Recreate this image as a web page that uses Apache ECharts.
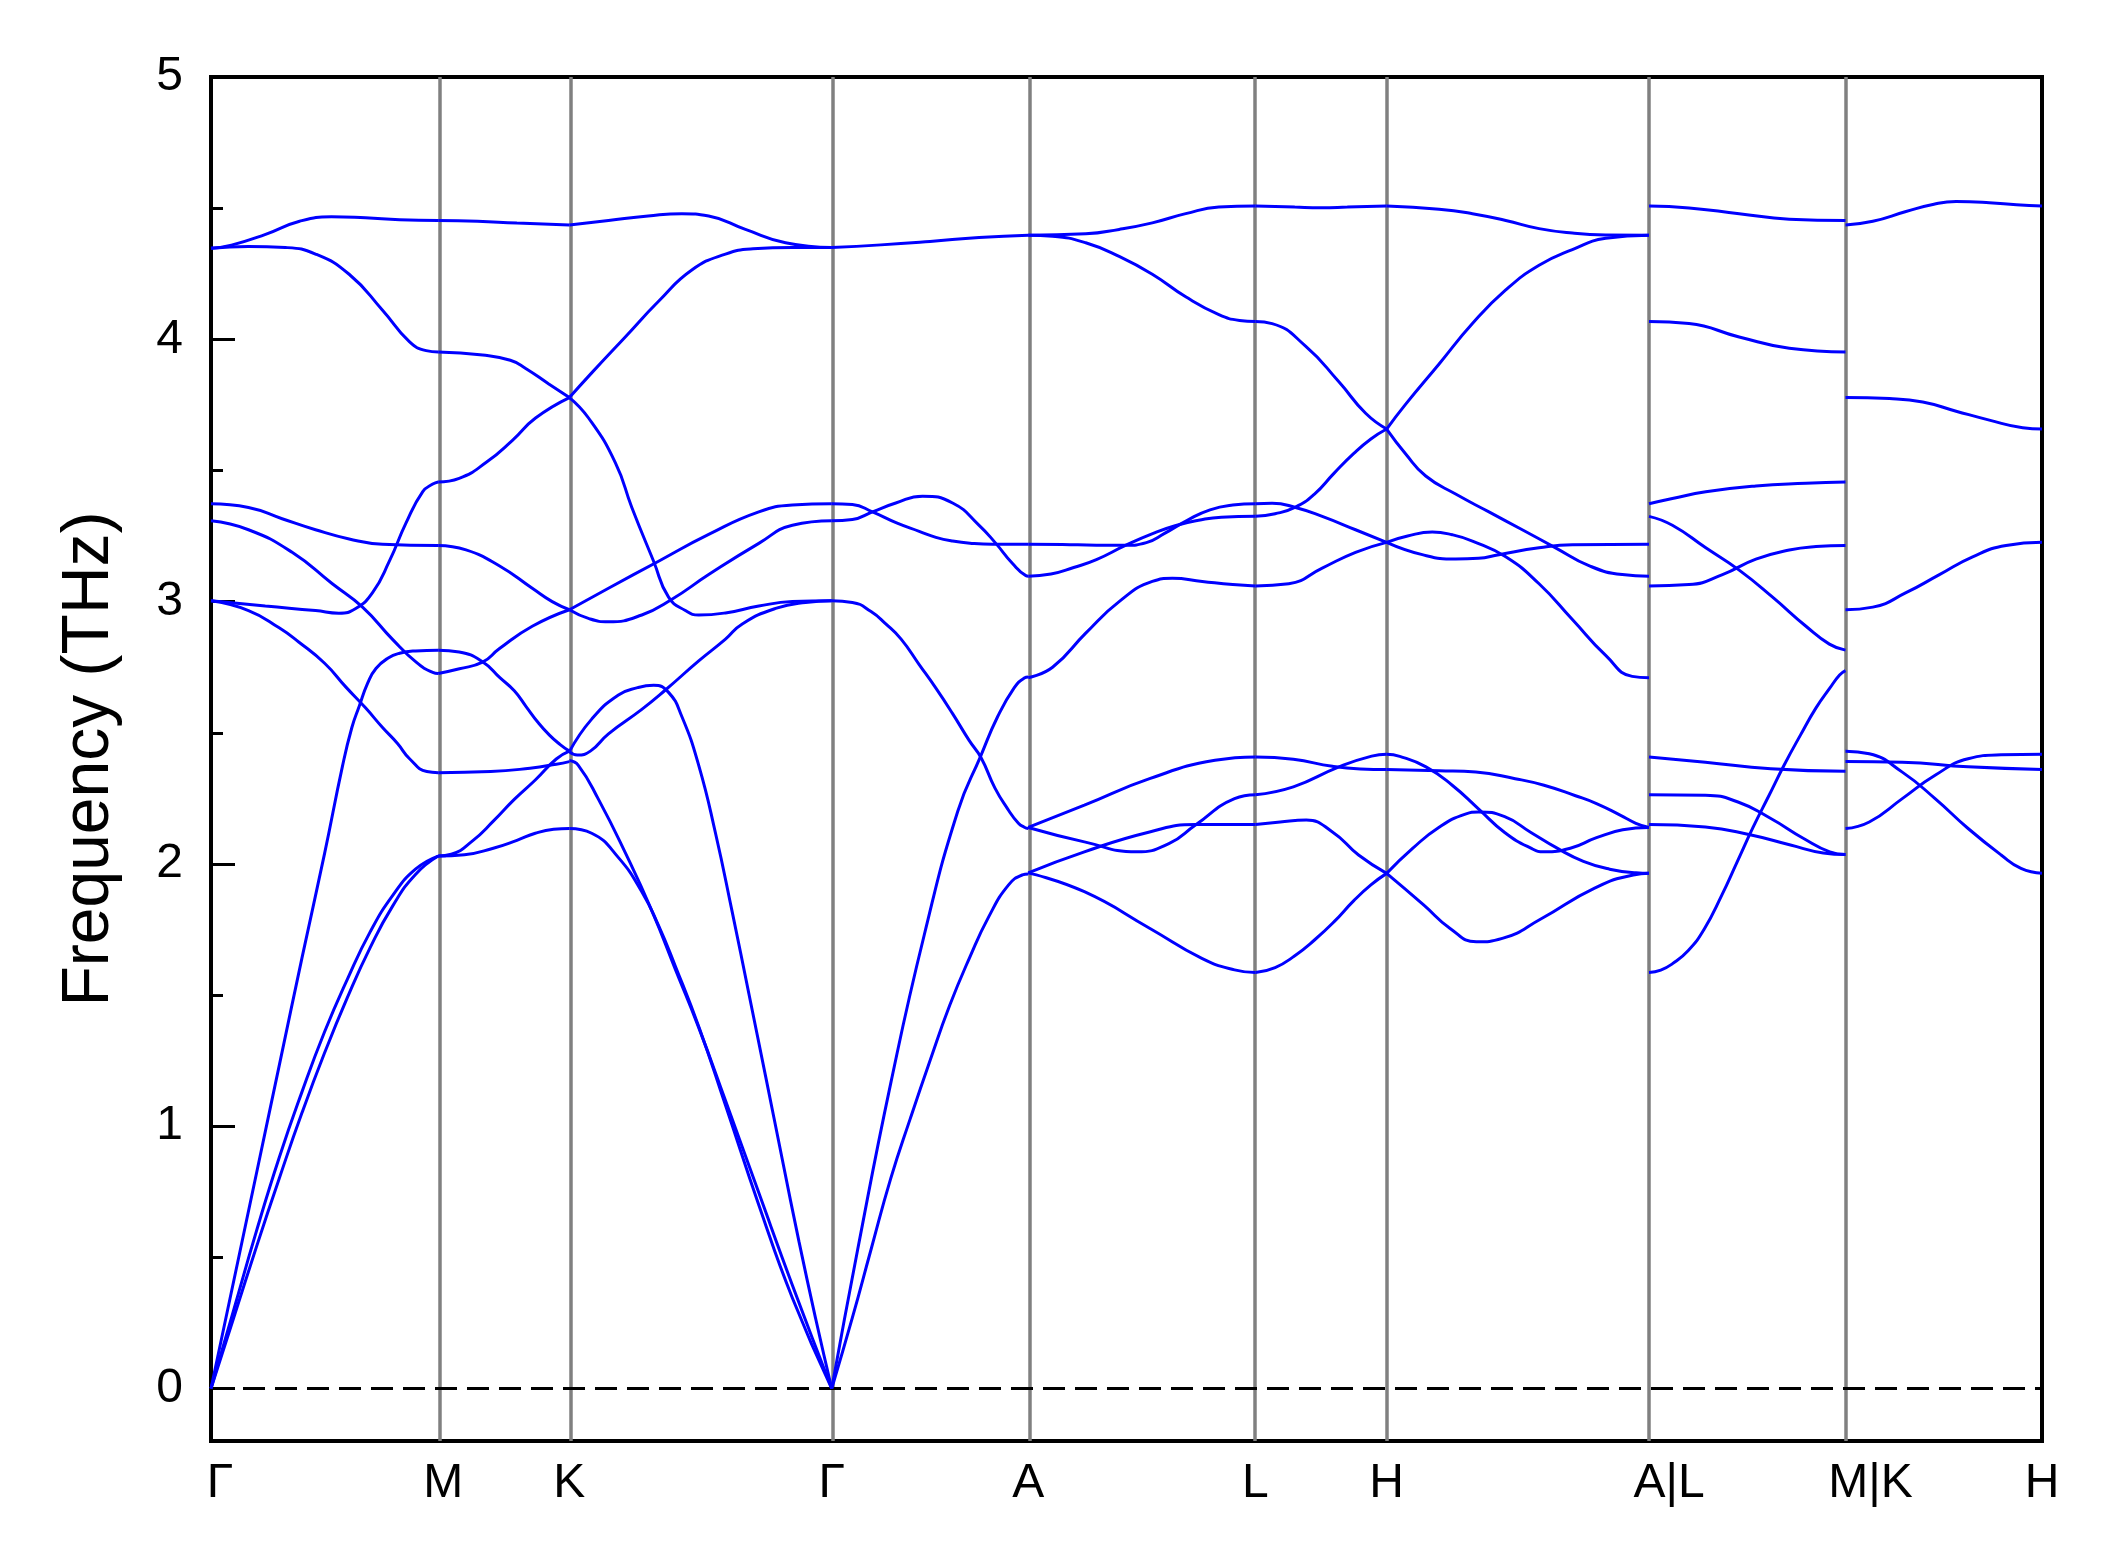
<!DOCTYPE html>
<html><head><meta charset="utf-8">
<script src="https://cdn.jsdelivr.net/npm/echarts@6/dist/echarts.min.js"></script>
<style>html,body{margin:0;padding:0;background:#fff}#c{width:2120px;height:1567px}</style>
</head><body><div id="c"></div>
<script>
// High-symmetry path labels and relative segment lengths
const tickLabels = ['Γ','M','K','Γ','A','L','H','A|L','M|K','H'];
const segmentLengths = [0.866, 0.5, 1.0, 0.749, 0.866, 0.5, 1.0, 0.749, 0.749];
const yMajorTicks = [0, 1, 2, 3, 4, 5];
const yMinorTicks = [0.5, 1.5, 2.5, 3.5, 4.5];

// Each band: list of [fraction along segment, frequency THz]
const bandsGammaM = [
  [[0,4.347],[0.09,4.359],[0.24,4.40],[0.39,4.45],[0.53,4.467],[0.68,4.463],[0.83,4.456],[1,4.453]],
  [[0,4.347],[0.165,4.354],[0.327,4.35],[0.46,4.325],[0.608,4.248],[0.755,4.111],[0.873,3.991],[0.947,3.957],[1,3.952]],
  [[0,3.373],[0.165,3.359],[0.313,3.316],[0.46,3.274],[0.608,3.239],[0.755,3.219],[1,3.214]],
  [[0,3.308],[0.165,3.274],[0.357,3.188],[0.534,3.068],[0.667,2.979],[0.8,2.855],[0.903,2.769],[0.976,2.73],[1,2.726]],
  [[0,3.003],[0.239,2.983],[0.46,2.966],[0.563,2.956],[0.637,2.974],[0.711,3.034],[0.785,3.154],[0.858,3.299],[0.932,3.419],[0.976,3.448],[1,3.456]],
  [[0,3.003],[0.165,2.966],[0.3,2.9],[0.386,2.846],[0.5,2.765],[0.593,2.675],[0.68,2.595],[0.755,2.52],[0.82,2.46],[0.875,2.40],[0.95,2.352],[1,2.348]],
  [[0,0],[0.1,0.41],[0.2,0.82],[0.3,1.23],[0.4,1.64],[0.5,2.04],[0.578,2.37],[0.62,2.52],[0.652,2.60],[0.69,2.69],[0.726,2.745],[0.78,2.785],[0.83,2.803],[0.9,2.812],[1,2.815]],
  [[0,0],[0.1,0.3],[0.2,0.6],[0.3,0.88],[0.4,1.13],[0.5,1.36],[0.6,1.56],[0.7,1.74],[0.8,1.88],[0.9,1.98],[1,2.03]],
  [[0,0],[0.1,0.27],[0.2,0.54],[0.3,0.8],[0.4,1.05],[0.5,1.28],[0.6,1.49],[0.7,1.68],[0.8,1.84],[0.9,1.96],[1,2.03]]
];
const bandsMK = [
  [[0,4.453],[0.3,4.45],[0.6,4.443],[1,4.436]],
  [[0,3.952],[0.339,3.94],[0.55,3.92],[0.667,3.889],[0.843,3.83],[1,3.778]],
  [[0,3.456],[0.16,3.47],[0.364,3.53],[0.566,3.615],[0.742,3.70],[1,3.778]],
  [[0,3.214],[0.212,3.197],[0.465,3.137],[0.717,3.051],[0.869,3.0],[1,2.969]],
  [[0,2.726],[0.162,2.744],[0.338,2.769],[0.465,2.82],[0.717,2.906],[1,2.969]],
  [[0,2.815],[0.16,2.808],[0.34,2.77],[0.47,2.71],[0.58,2.66],[0.67,2.60],[0.76,2.54],[0.85,2.49],[0.93,2.455],[1,2.43]],
  [[0,2.348],[0.4,2.352],[0.7,2.365],[0.9,2.38],[1,2.39]],
  [[0,2.03],[0.1,2.037],[0.264,2.089],[0.42,2.163],[0.58,2.246],[0.74,2.32],[0.9,2.40],[1,2.43]],
  [[0,2.03],[0.2,2.035],[0.42,2.06],[0.6,2.09],[0.74,2.117],[0.88,2.132],[1,2.135]]
];
const bandsKGamma = [
  [[0,4.436],[0.149,4.453],[0.3,4.47],[0.429,4.479],[0.531,4.47],[0.671,4.419],[0.824,4.368],[1,4.35]],
  [[0,3.778],[0.085,3.872],[0.213,4.009],[0.34,4.145],[0.468,4.265],[0.595,4.325],[0.7,4.345],[0.85,4.35],[1,4.35]],
  [[0,3.778],[0.073,3.70],[0.175,3.53],[0.238,3.359],[0.321,3.154],[0.378,3.017],[0.442,2.966],[0.493,2.949],[0.595,2.957],[0.722,2.983],[0.85,3.0],[1,3.003]],
  [[0,2.969],[0.149,3.051],[0.34,3.154],[0.531,3.256],[0.722,3.342],[0.85,3.368],[1,3.373]],
  [[0,2.969],[0.075,2.935],[0.149,2.923],[0.276,2.949],[0.391,3.009],[0.531,3.103],[0.722,3.222],[0.85,3.291],[1,3.308]],
  [[0,2.428],[0.085,2.552],[0.187,2.644],[0.26,2.672],[0.321,2.681],[0.378,2.654],[0.429,2.561],[0.493,2.376],[0.557,2.117],[0.62,1.82],[0.684,1.506],[0.748,1.19],[0.811,0.876],[0.875,0.561],[0.939,0.265],[1,0]],
  [[0,2.428],[0.03,2.415],[0.08,2.43],[0.149,2.496],[0.276,2.589],[0.366,2.663],[0.493,2.774],[0.595,2.857],[0.659,2.915],[0.786,2.974],[0.9,2.997],[1,3.003]],
  [[0,2.394],[0.034,2.376],[0.111,2.246],[0.213,2.043],[0.315,1.82],[0.404,1.598],[0.493,1.376],[0.595,1.098],[0.722,0.746],[0.85,0.394],[1,0]],
  [[0,2.135],[0.085,2.117],[0.187,2.024],[0.276,1.894],[0.34,1.765],[0.404,1.61],[0.493,1.38],[0.595,1.08],[0.722,0.70],[0.85,0.345],[1,0]]
];
const bandsGammaA = [
  [[0,4.35],[0.25,4.36],[0.5,4.373],[0.75,4.388],[1,4.397]],
  [[0,3.373],[0.105,3.37],[0.207,3.342],[0.33,3.3],[0.445,3.268],[0.53,3.245],[0.615,3.231],[0.72,3.222],[0.818,3.219],[1,3.219]],
  [[0,3.308],[0.105,3.313],[0.207,3.342],[0.326,3.376],[0.462,3.402],[0.615,3.376],[0.75,3.291],[0.835,3.222],[0.92,3.145],[0.988,3.099],[1,3.097]],
  [[0,3.003],[0.105,2.997],[0.2,2.962],[0.275,2.915],[0.353,2.857],[0.445,2.76],[0.53,2.67],[0.615,2.573],[0.7,2.47],[0.76,2.405],[0.83,2.29],[0.895,2.21],[0.95,2.155],[0.98,2.14],[1,2.135]],
  [[0,0],[0.132,0.53],[0.302,1.17],[0.471,1.73],[0.641,2.2],[0.759,2.413],[0.844,2.561],[0.929,2.672],[0.98,2.709],[1,2.713]],
  [[0,0],[0.105,0.27],[0.2,0.53],[0.3,0.8],[0.4,1.03],[0.5,1.25],[0.6,1.46],[0.7,1.64],[0.8,1.8],[0.9,1.92],[0.97,1.958],[1,1.962]]
];
const bandsAL = [
  [[0,4.397],[0.253,4.402],[0.4,4.419],[0.546,4.444],[0.693,4.479],[0.839,4.504],[1,4.508]],
  [[0,4.397],[0.107,4.393],[0.253,4.368],[0.4,4.316],[0.546,4.248],[0.693,4.162],[0.839,4.094],[0.93,4.072],[1,4.068]],
  [[0,3.219],[0.15,3.218],[0.3,3.215],[0.43,3.215],[0.52,3.225],[0.6,3.26],[0.7,3.31],[0.8,3.35],[0.9,3.368],[1,3.373]],
  [[0,3.097],[0.1,3.105],[0.2,3.13],[0.3,3.16],[0.43,3.215],[0.55,3.26],[0.65,3.29],[0.75,3.31],[0.85,3.322],[1,3.325]],
  [[0,2.71],[0.107,2.75],[0.253,2.88],[0.4,3.0],[0.546,3.077],[0.634,3.089],[0.766,3.077],[0.9,3.065],[1,3.06]],
  [[0,2.139],[0.247,2.224],[0.534,2.325],[0.822,2.395],[1,2.408]],
  [[0,2.139],[0.247,2.084],[0.477,2.046],[0.621,2.078],[0.736,2.148],[0.908,2.249],[1,2.264]],
  [[0,1.966],[0.247,2.046],[0.534,2.122],[0.736,2.15],[1,2.15]],
  [[0,1.966],[0.247,1.894],[0.534,1.755],[0.764,1.64],[0.908,1.596],[1,1.586]]
];
const bandsLH = [
  [[0,4.508],[0.3,4.504],[0.5,4.502],[0.7,4.504],[1,4.508]],
  [[0,4.068],[0.127,4.06],[0.382,3.974],[0.636,3.838],[0.84,3.718],[1,3.658]],
  [[0,3.325],[0.15,3.335],[0.305,3.36],[0.45,3.41],[0.6,3.49],[0.75,3.565],[0.88,3.62],[1,3.658]],
  [[0,3.373],[0.127,3.375],[0.305,3.359],[0.509,3.325],[0.763,3.274],[1,3.226]],
  [[0,3.06],[0.254,3.068],[0.509,3.128],[0.763,3.188],[1,3.226]],
  [[0,2.408],[0.289,2.399],[0.587,2.372],[0.8,2.362],[1,2.36]],
  [[0,2.264],[0.289,2.294],[0.637,2.37],[0.886,2.411],[1,2.418]],
  [[0,2.15],[0.189,2.16],[0.388,2.167],[0.587,2.122],[0.786,2.034],[1,1.964]],
  [[0,1.586],[0.15,1.605],[0.3,1.65],[0.45,1.71],[0.6,1.78],[0.75,1.86],[0.88,1.92],[1,1.964]]
];
const bandsHA = [
  [[0,4.508],[0.2,4.496],[0.327,4.479],[0.454,4.453],[0.581,4.422],[0.708,4.405],[0.835,4.398],[1,4.397]],
  [[0,3.658],[0.072,3.752],[0.2,3.906],[0.327,4.06],[0.454,4.188],[0.581,4.282],[0.708,4.342],[0.835,4.385],[1,4.397]],
  [[0,3.658],[0.072,3.564],[0.149,3.479],[0.263,3.41],[0.39,3.342],[0.517,3.274],[0.644,3.205],[0.771,3.137],[0.898,3.103],[1,3.097]],
  [[0,3.226],[0.08,3.25],[0.174,3.265],[0.25,3.255],[0.327,3.231],[0.454,3.171],[0.581,3.068],[0.708,2.932],[0.835,2.795],[0.936,2.715],[1,2.71]],
  [[0,3.226],[0.136,3.179],[0.263,3.162],[0.35,3.165],[0.428,3.179],[0.581,3.205],[0.708,3.217],[1,3.219]],
  [[0,2.36],[0.2,2.355],[0.34,2.35],[0.49,2.325],[0.6,2.30],[0.72,2.26],[0.8,2.23],[0.89,2.186],[0.95,2.155],[1,2.139]],
  [[0,2.418],[0.05,2.41],[0.15,2.37],[0.25,2.30],[0.35,2.21],[0.45,2.12],[0.55,2.06],[0.6,2.046],[0.7,2.06],[0.8,2.1],[0.9,2.13],[1,2.139]],
  [[0,1.964],[0.1,2.06],[0.2,2.14],[0.3,2.19],[0.35,2.198],[0.45,2.18],[0.55,2.12],[0.65,2.06],[0.75,2.01],[0.85,1.98],[0.95,1.966],[1,1.964]],
  [[0,1.964],[0.142,1.843],[0.242,1.754],[0.342,1.703],[0.441,1.716],[0.591,1.792],[0.791,1.907],[0.94,1.958],[1,1.964]]
];
const bandsLM = [
  [[0,4.508],[0.204,4.501],[0.459,4.479],[0.714,4.458],[1,4.453]],
  [[0,4.068],[0.204,4.06],[0.459,4.009],[0.714,3.966],[1,3.952]],
  [[0,3.373],[0.119,3.393],[0.289,3.419],[0.544,3.441],[0.799,3.451],[1,3.456]],
  [[0,3.325],[0.119,3.291],[0.289,3.205],[0.459,3.12],[0.629,3.017],[0.799,2.906],[0.918,2.838],[1,2.815]],
  [[0,3.06],[0.204,3.065],[0.374,3.103],[0.544,3.162],[0.714,3.197],[0.85,3.21],[1,3.214]],
  [[0,2.408],[0.287,2.388],[0.62,2.363],[1,2.353]],
  [[0,2.264],[0.287,2.262],[0.453,2.236],[0.62,2.173],[0.787,2.097],[0.92,2.046],[1,2.036]],
  [[0,2.15],[0.287,2.141],[0.52,2.11],[0.72,2.072],[0.887,2.042],[1,2.036]],
  [[0,1.586],[0.06,1.595],[0.12,1.62],[0.2,1.67],[0.28,1.75],[0.37,1.88],[0.45,2.01],[0.53,2.14],[0.61,2.26],[0.69,2.38],[0.77,2.49],[0.85,2.595],[0.92,2.67],[0.97,2.72],[1,2.737]]
];
const bandsKH = [
  [[0,4.436],[0.139,4.45],[0.308,4.487],[0.45,4.515],[0.563,4.525],[0.732,4.521],[0.87,4.513],[1,4.508]],
  [[0,3.778],[0.224,3.774],[0.393,3.761],[0.563,3.726],[0.732,3.692],[0.902,3.663],[1,3.658]],
  [[0,2.969],[0.139,2.979],[0.308,3.034],[0.478,3.103],[0.647,3.171],[0.817,3.214],[1,3.226]],
  [[0,2.43],[0.121,2.42],[0.289,2.35],[0.456,2.249],[0.624,2.135],[0.792,2.034],[0.893,1.983],[1,1.964]],
  [[0,2.39],[0.289,2.388],[0.624,2.37],[1,2.36]],
  [[0,2.135],[0.121,2.16],[0.289,2.249],[0.456,2.338],[0.624,2.401],[0.792,2.416],[1,2.418]]
];

const segments = [bandsGammaM, bandsMK, bandsKGamma, bandsGammaA, bandsAL, bandsLH, bandsHA, bandsLM, bandsKH];

const tickPos = [0];
segmentLengths.forEach(l => tickPos.push(+(tickPos[tickPos.length - 1] + l).toFixed(4)));
const xMax = tickPos[tickPos.length - 1];

const series = [];
segments.forEach((bands, s) => {
  const x0 = tickPos[s], L = segmentLengths[s];
  bands.forEach(band => {
    series.push({
      type: 'line', data: band.map(p => [x0 + p[0] * L, p[1]]),
      smooth: 0.5, showSymbol: false, symbol: 'none', silent: true, z: 5,
      lineStyle: { color: '#0000ff', width: 3 }
    });
  });
});
series.push({
  type: 'line', data: [], z: 2, silent: true,
  markLine: {
    symbol: ['none', 'none'], silent: true, label: { show: false },
    lineStyle: { color: '#808080', width: 3.5, type: 'solid' },
    emphasis: { disabled: true },
    data: tickPos.slice(1, -1).map(x => ({ xAxis: x }))
  }
});
series.push({
  type: 'line', data: [], z: 3, silent: true,
  markLine: {
    symbol: ['none', 'none'], silent: true, label: { show: false },
    lineStyle: { color: '#000000', width: 3, type: [22, 10] },
    emphasis: { disabled: true },
    data: [{ yAxis: 0 }]
  }
});

function labelFor(v) {
  let best = 0, bd = 1e9;
  tickPos.forEach((p, i) => { const d = Math.abs(p - v); if (d < bd) { bd = d; best = i; } });
  const t = tickLabels[best];
  if (best === 0) return '{g|' + t + '}';
  if (best === 1) return '{m|' + t + '}';
  if (t === 'A|L') return '{al|' + t + '}';
  if (t === 'M|K') return '{mk|' + t + '}';
  return '{n|' + t + '}';
}

const font = "'Liberation Sans', Arial, Helvetica, sans-serif";
const chart = echarts.init(document.getElementById('c'), null, { renderer: 'canvas' });
chart.setOption({
  animation: false,
  backgroundColor: '#ffffff',
  textStyle: { fontFamily: font },
  grid: { left: 211, top: 77, width: 1831, height: 1364, show: true, borderColor: '#000', borderWidth: 4, backgroundColor: 'transparent' },
  xAxis: {
    type: 'value', min: 0, max: xMax,
    axisLine: { show: false }, axisTick: { show: false }, splitLine: { show: false },
    axisLabel: {
      customValues: tickPos, formatter: labelFor, margin: 19, color: '#000',
      fontSize: 48, fontFamily: font,
      rich: {
        n: { fontSize: 48, fontFamily: font, color: '#000' },
        g: { fontSize: 48, fontFamily: font, color: '#000', padding: [0, 0, 0, 18] },
        m: { fontSize: 48, fontFamily: font, color: '#000', padding: [0, 0, 0, 10] },
        al: { fontSize: 48, fontFamily: font, color: '#000', padding: [0, 0, 0, 40] },
        mk: { fontSize: 48, fontFamily: font, color: '#000', padding: [0, 0, 0, 50] }
      }
    }
  },
  yAxis: [
    {
      type: 'value', min: -0.2, max: 5,
      axisLine: { show: false }, splitLine: { show: false },
      axisTick: { show: true, inside: true, length: 24, customValues: yMajorTicks, lineStyle: { color: '#000', width: 3 } },
      axisLabel: { customValues: yMajorTicks, fontSize: 48, margin: 28, color: '#000', fontFamily: font },
      name: 'Frequency (THz)', nameLocation: 'middle', nameGap: 88,
      nameTextStyle: { fontSize: 66, color: '#000', fontFamily: font }
    },
    {
      type: 'value', min: -0.2, max: 5, position: 'left',
      axisLine: { show: false }, splitLine: { show: false }, axisLabel: { show: false },
      axisTick: { show: true, inside: true, length: 12, customValues: yMinorTicks, lineStyle: { color: '#000', width: 3 } }
    }
  ],
  series: series
});
</script>
</body></html>
